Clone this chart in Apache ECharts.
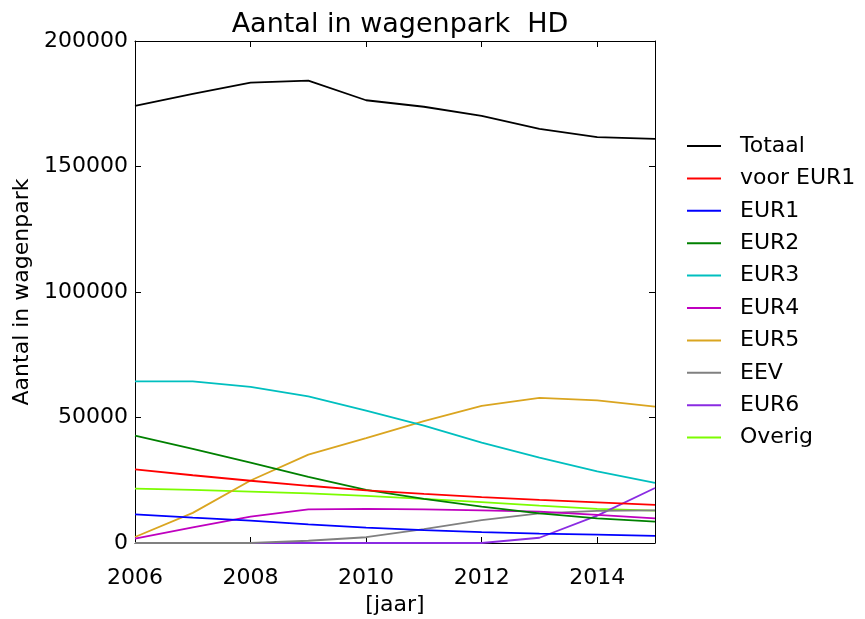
<!DOCTYPE html>
<html>
<head>
<meta charset="utf-8">
<script src="https://cdn.jsdelivr.net/npm/echarts@6/dist/echarts.min.js"></script>
<style>
  html, body { margin: 0; padding: 0; background: #fff; }
  #chart { width: 865px; height: 619px; }
</style>
</head>
<body>
<div id="chart"></div>
<script>
// jaren en aantallen per emissieklasse
var years = [2006, 2007, 2008, 2009, 2010, 2011, 2012, 2013, 2014, 2015];
var names = ["Totaal", "voor EUR1", "EUR1", "EUR2", "EUR3", "EUR4", "EUR5", "EEV", "EUR6", "Overig"];
var colors = ["#000000", "#ff0000", "#0000ff", "#008000", "#00bfbf", "#bf00bf", "#daa520", "#808080", "#8a2be2", "#7cfc00"];

var totaal   = [174200, 178900, 183400, 184200, 176400, 173800, 170200, 165000, 161700, 161000];
var voorEur1 = [29300, 27000, 24800, 22800, 21000, 19600, 18300, 17200, 16200, 15200];
var eur1     = [11400, 10100, 8900, 7400, 6100, 5100, 4300, 3700, 3300, 2800];
var eur2     = [42800, 37500, 32000, 26300, 21200, 17600, 14500, 11800, 9800, 8500];
var eur3     = [64400, 64400, 62200, 58400, 52700, 46800, 40000, 34000, 28500, 24000];
var eur4     = [1700, 6200, 10500, 13400, 13600, 13400, 13000, 12500, 11200, 9800];
var eur5     = [2400, 12000, 24900, 35200, 41800, 48600, 54600, 57800, 56800, 54300];
var eev      = [0, 0, 0, 900, 2300, 5500, 9100, 11800, 12800, 13000];
var eur6     = [0, 0, 0, 0, 0, 0, 0, 2100, 10900, 21900];
var overig   = [21700, 21200, 20500, 19800, 18800, 17600, 16300, 14900, 13600, 12900];

var values = [totaal, voorEur1, eur1, eur2, eur3, eur4, eur5, eev, eur6, overig];

var myChart = echarts.init(document.getElementById("chart"));

var font = "DejaVu Sans";
var plain = function (v) { return String(v); };

option = {
  backgroundColor: "#fff",
  animation: false,
  title: {
    text: "Aantal in wagenpark  HD",
    left: 395,
    textAlign: "center",
    top: 6,
    textStyle: { fontFamily: font, fontSize: 27, fontWeight: "normal", color: "#000" }
  },
  grid: { left: 135, top: 41, right: 210, bottom: 76, outerBoundsMode: "none", containLabel: false },
  legend: {
    orient: "vertical",
    left: 682,
    top: 129,
    itemWidth: 34,
    itemHeight: 2,
    itemGap: 8.4,
    icon: "rect",
    data: names,
    textStyle: { fontFamily: font, fontSize: 22, color: "#000", lineHeight: 24, padding: [0, 0, 0, 14] }
  },
  xAxis: [
    {
      type: "value",
      min: 2006,
      max: 2015,
      interval: 2,
      name: "[jaar]",
      nameLocation: "middle",
      nameGap: 50,
      nameTextStyle: { fontFamily: font, fontSize: 22, color: "#000" },
      axisLine: { show: true, onZero: false, lineStyle: { color: "#000", width: 1 } },
      axisTick: { inside: true, length: 6, lineStyle: { color: "#000" } },
      axisLabel: { fontFamily: font, fontSize: 22, color: "#000", margin: 24, formatter: plain, showMaxLabel: false },
      splitLine: { show: false }
    },
    {
      type: "value",
      position: "top",
      min: 2006,
      max: 2015,
      interval: 2,
      axisLine: { show: true, onZero: false, lineStyle: { color: "#000", width: 1 } },
      axisTick: { inside: true, length: 6, lineStyle: { color: "#000" } },
      axisLabel: { show: false },
      splitLine: { show: false }
    }
  ],
  yAxis: [
    {
      type: "value",
      min: 0,
      max: 200000,
      interval: 50000,
      name: "Aantal in wagenpark",
      nameLocation: "middle",
      nameGap: 102,
      nameTextStyle: { fontFamily: font, fontSize: 22, color: "#000" },
      axisLine: { show: true, onZero: false, lineStyle: { color: "#000", width: 1 } },
      axisTick: { show: true, inside: true, length: 6, lineStyle: { color: "#000" } },
      axisLabel: { fontFamily: font, fontSize: 22, color: "#000", margin: 7, formatter: plain },
      splitLine: { show: false }
    },
    {
      type: "value",
      position: "right",
      min: 0,
      max: 200000,
      interval: 50000,
      axisLine: { show: true, onZero: false, lineStyle: { color: "#000", width: 1 } },
      axisTick: { show: true, inside: true, length: 6, lineStyle: { color: "#000" } },
      axisLabel: { show: false },
      splitLine: { show: false }
    }
  ],
  series: names.map(function (n, i) {
    return {
      name: n,
      type: "line",
      symbol: "none",
      color: colors[i],
      lineStyle: { width: 1.8, color: colors[i] },
      z: 10 - i,
      data: years.map(function (y, j) { return [y, values[i][j]]; })
    };
  })
};

myChart.setOption(option);
</script>
</body>
</html>
